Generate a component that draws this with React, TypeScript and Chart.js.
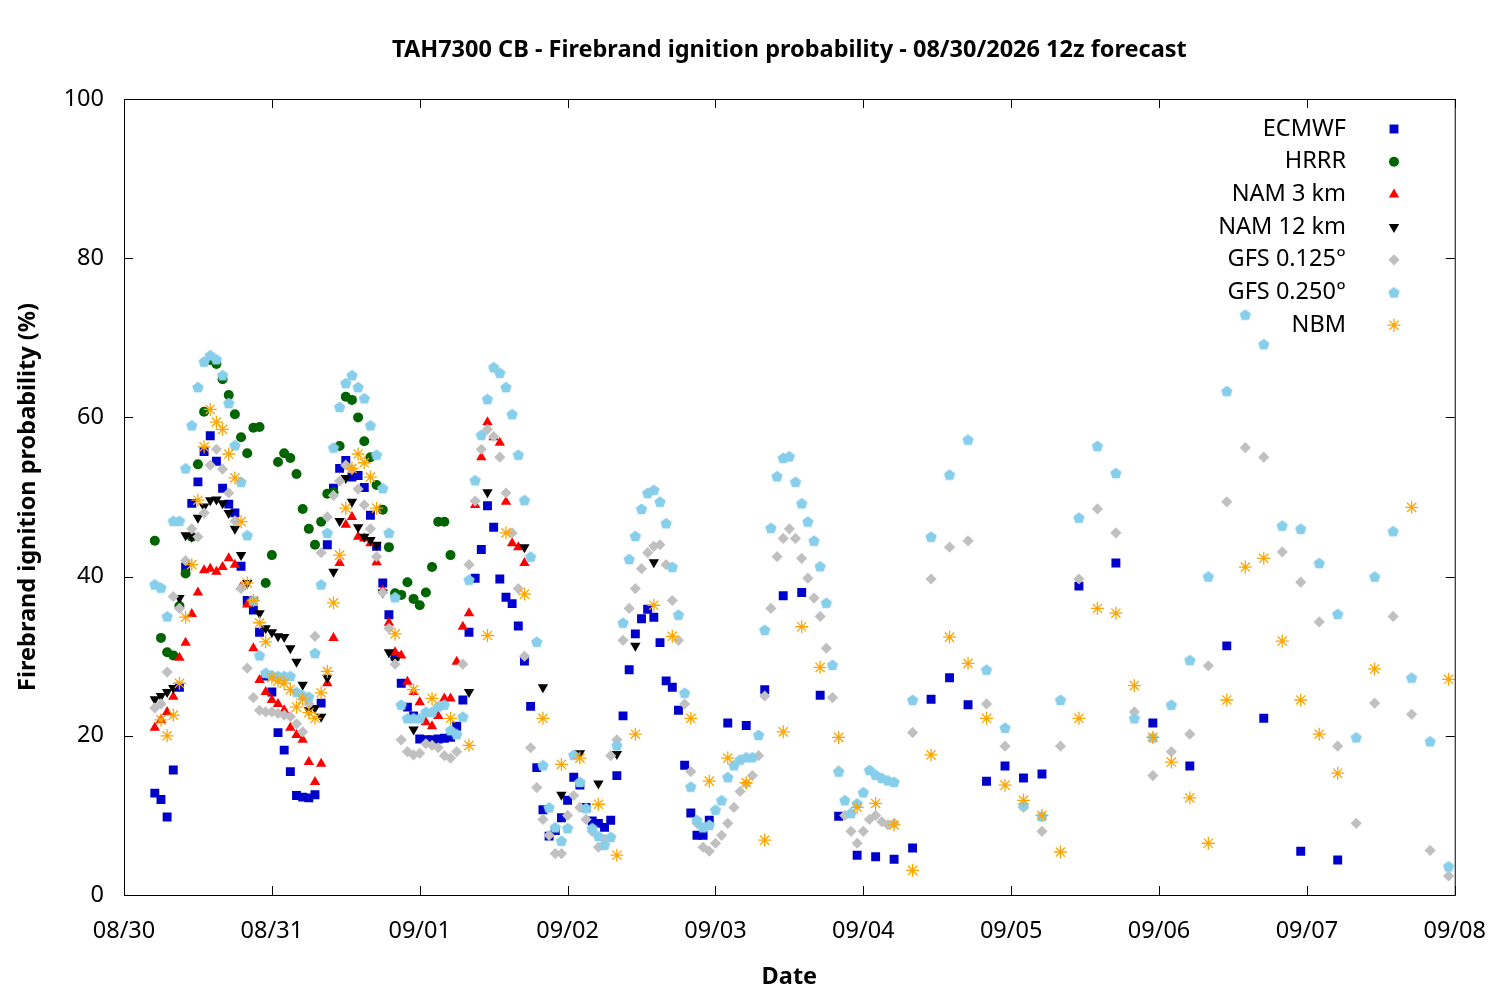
import React, { useEffect, useRef } from "react";
import { Chart, registerables } from "chart.js";
import { drawPoint } from "chart.js/helpers";

Chart.register(...registerables);

// hours since 08/30 00z
const DATE_LABELS = ["08/30", "08/31", "09/01", "09/02", "09/03", "09/04", "09/05", "09/06", "09/07", "09/08"];
const Y_TICKS = [0, 20, 40, 60, 80, 100];

const ecmwfHourly = [12.8,12,9.8,15.7,26.1,41.2,49.2,51.9,55.7,57.7,54.5,51.1,49.1,48,41.3,37,35.8,33,27.5,25.5,20.4,18.2,15.5,12.5,12.3,12.2,12.6,24.1,44,51.1,53.6,54.6,52.5,52.7,51.2,47.7,43.8,39.2,35.2,30,26.6,23.6,22.5,19.6,19.5,19.5,19.6,19.7,19.8,21.2,24.5,33,39.8,43.4,48.9,46.2,39.7,37.4,36.6,33.8,29.4,23.7,16,10.7,7.4,8.1,9.7,11.9,14.8,13.8,11,9.3,9,8.5,9.4,15,22.5,28.3,32.8,34.7,35.9,34.9,31.7,26.9,26.1,23.2,16.3,10.3,7.5,7.5,9.4];
const ecmwf3h = [21.6,21.3,25.8,37.6,38,25.1,9.9,5,4.8,4.5,5.9,24.6,27.3,23.9,14.3,16.2,14.7,15.2,null,38.8,null,41.7,null,21.6,null,16.2,null,31.3,null,22.2,null,5.5,null,4.4];

const hrrrHourly = [44.5,32.3,30.5,30.1,36.3,40.4,45,54.1,60.7,67.2,66.7,64.8,62.8,60.4,57.5,55.5,58.7,58.8,39.2,42.7,54.4,55.5,54.9,52.9,48.5,46,44,46.9,50.4,50.6,56.4,62.6,62.2,60,57,55,51.5,48.4,43.7,37.9,37.7,39.3,37.2,36.4,38,41.2,46.9,46.9,42.7];

const nam3Hourly = [21,22,23,24.9,29.8,31.7,35.3,38,40.8,41,40.6,41.2,42.3,41.5,38.7,36.5,31,27,25.5,24.5,24,23.2,21,20.1,19.5,16.7,14.2,16.5,26.6,32.3,41.7,46.5,47.5,45,44.8,44.2,41.8,38.3,34.2,30.5,30.1,26.8,25.5,24.2,21.7,21.2,22.5,24.7,24.7,29.3,33.7,35.4,49,55,59.4,57.5,56.8,49.4,44.2,43.7,41.7];

const nam12Hourly = [24.6,25,25.5,26,37.3,45.2,45,47.4,48.8,49.6,49.7,49.2,48,46,42.7,39.2,37,35.4,33.5,33,32.5,32.4,31,29.3,26.4,23.2,23.5,22.4,27.3,40.6,47,52.4,49.4,46.2,45,44.6,44,38,30.5,29.5];
const nam123h = [20.8,null,null,25.5,50.6,null,43.7,26.1,12.6,17.8,14,17.7,31.3,41.8];

const gfs125Hourly = [23.5,24,28,37.5,36,42,46,45,48,54,56,53.5,50.5,47,38.5,28.5,24.8,23.2,23,23,22.8,22.6,22.4,21.5,20.5,24,32.5,43,47.5,50.2,52,54,53.5,51,49,46,42.5,38,33.5,29,19.5,18,17.6,17.8,19,18.8,18.5,17.5,17.2,18,29,41.5,49.5,56,58.5,57.6,55,50.5,45.5,38.5,30,18.5,13.5,9.5,7.5,5.2,5.2,10,12.5,11,9.5,8,6,7,17.5,19.5,32,36,38.5,41,43,43.8,44,41.5,37,32,24,15.5,9,6,5.5,6.5,7.5,9,11,13,14,15,17.5,25,36,42.5,44.8,46,44.8,42.3,39.8,37.3,35,31,24.8,15.6,10,8,6.5,8,9.5,10,9.2,8.8,9];
const gfs1253h = [20.4,39.7,43.7,44.5,24,18.7,11,8,18.7,39.7,48.5,45.5,23,15,18,20.2,28.8,49.4,56.2,55,43.1,39.3,34.3,18.7,9,24.1,35,22.7,5.6,2.4];

const gfs250Hourly = [39,38.6,35,47,47,53.6,59,63.8,67,67.8,67.3,65.3,61.8,56.5,51.9,45.2,37,30.1,27.9,27.6,27.5,27.5,27.5,25.5,25.1,24.9,30.4,39,45.5,56.2,61.3,64.3,65.3,63.8,62.4,59,55.3,51.1,45.5,37.4,23.9,22.2,22.2,22.2,23,23,23.7,23.9,20.7,20.2,22.4,39.6,52.1,57.8,62.3,66.3,65.6,63.8,60.4,55.3,49.6,42.5,31.8,16.3,11,8.5,6.8,8.4,17.6,14.2,10.9,8.4,7.4,6.3,7.3,18.8,34.2,42.2,45.1,48.5,50.5,50.9,49.4,46.7,41.2,35.2,25.4,13.6,9.4,8.5,8.8,10.7,11.9,14.8,16.3,17,17.3,17.3,20.1,33.3,46.1,52.6,54.9,55.1,51.9,49.2,46.9,44.5,41.3,36.7,28.9,15.5,11.9,10.3,11.5,12.9,15.7,15.1,14.7,14.4,14.2];
const gfs2503h = [24.5,45,52.8,57.2,28.3,21,11.3,9.9,24.5,47.4,56.4,53,22.2,19.8,23.9,29.5,40,63.3,72.9,69.2,46.4,46,41.7,35.3,19.8,40,45.7,27.3,19.3,3.6];

const nbmHourly = [22,20,22.6,26.6,34.9,41.5,49.6,56.3,61,59.4,58.5,55.4,52.4,46.9,39.2,37,34.2,31.8,27.3,26.9,26.6,25.8,23.6,24.6,22.9,22.2,25.4,28.1,36.7,42.7,48.6,53.6,55.4,54.3,52.5,48.6];
const nbm3h = [32.8,25.8,24.7,22.2,18.8,32.6,45.5,37.8,22.2,16.4,17.2,11.4,5,20.2,36.4,32.5,22.2,14.3,17.2,14.1,6.9,20.5,33.7,28.6,19.8,11,11.5,8.8,3.1,17.6,32.4,29.1,22.2,13.8,11.9,10,5.4,22.2,36,35.4,26.3,19.8,16.7,12.2,6.5,24.5,41.2,42.3,31.9,24.5,20.2,15.3,null,28.4,null,48.7,null,27.1];

function seg(start: number, step: number, vals: (number | null)[]) {
  const out: { x: number; y: number }[] = [];
  vals.forEach((v, i) => { if (v !== null) out.push({ x: start + i * step, y: v }); });
  return out;
}

function pentagon(color: string, r: number) {
  const c = document.createElement("canvas");
  const s = Math.ceil(r * 2 + 2);
  c.width = s; c.height = s;
  const ctx = c.getContext("2d")!;
  ctx.fillStyle = color;
  ctx.beginPath();
  for (let i = 0; i < 5; i++) {
    const a = -Math.PI / 2 + (i * 2 * Math.PI) / 5;
    const px = s / 2 + r * Math.cos(a), py = s / 2 + r * Math.sin(a) + 0.5;
    if (i === 0) ctx.moveTo(px, py); else ctx.lineTo(px, py);
  }
  ctx.closePath(); ctx.fill();
  return c;
}

const FONT = "'Noto Sans', 'DejaVu Sans', sans-serif";

export default function App() {
  const ref = useRef<HTMLCanvasElement>(null);
  useEffect(() => {
    const pent = pentagon("#87ceeb", 6);
    const mk = (label: string, data: any[], color: string, style: any, radius: number, extra: any = {}) => ({
      label, data, backgroundColor: color, borderColor: color, pointStyle: style, pointRadius: radius,
      pointBorderWidth: style === "star" ? 1.3 : 0, showLine: false, ...extra,
    });
    const datasets: any[] = [
      mk("ECMWF", [...seg(5, 1, ecmwfHourly), ...seg(98, 3, ecmwf3h)], "#0000cc", "rect", 6.3, { order: 7 }),
      mk("HRRR", seg(5, 1, hrrrHourly), "#006400", "circle", 5, { order: 6 }),
      mk("NAM 3 km", seg(5, 1, nam3Hourly), "#ff0000", "triangle", 6, { order: 5 }),
      mk("NAM 12 km", [...seg(5, 1, nam12Hourly), ...seg(47, 3, nam123h)], "#000000", "triangle", 6, { order: 4, pointRotation: 180 }),
      mk("GFS 0.125°", [...seg(5, 1, gfs125Hourly), ...seg(128, 3, gfs1253h)], "#c0c0c0", "rectRot", 5.6, { order: 3 }),
      mk("GFS 0.250°", [...seg(5, 1, gfs250Hourly), ...seg(128, 3, gfs2503h)], "#87ceeb", pent, 6, { order: 2 }),
      mk("NBM", [...seg(6, 1, nbmHourly), ...seg(44, 3, nbm3h)], "#ffa500", "star", 6.5, { order: 1 }),
    ];
    const deco = {
      id: "deco",
      afterDraw(chart: any) {
        const { ctx, chartArea: a, scales } = chart;
        ctx.save();
        ctx.strokeStyle = "#000"; ctx.lineWidth = 1;
        ctx.strokeRect(a.left + 0.5, a.top + 0.5, a.right - a.left, a.bottom - a.top);
        ctx.beginPath();
        for (let i = 0; i < DATE_LABELS.length; i++) {
          const x = Math.round(scales.x.getPixelForValue(i * 24)) + 0.5;
          ctx.moveTo(x, a.bottom); ctx.lineTo(x, a.bottom - 9);
          ctx.moveTo(x, a.top); ctx.lineTo(x, a.top + 9);
        }
        for (const v of Y_TICKS) {
          const y = Math.round(scales.y.getPixelForValue(v)) + 0.5;
          ctx.moveTo(a.left, y); ctx.lineTo(a.left + 9, y);
          ctx.moveTo(a.right, y); ctx.lineTo(a.right - 9, y);
        }
        ctx.stroke();
        ctx.fillStyle = "#000";
        ctx.textAlign = "center"; ctx.textBaseline = "middle";
        ctx.font = `bold 23.5px ${FONT}`;
        ctx.fillText("TAH7300 CB - Firebrand ignition probability - 08/30/2026 12z forecast", (a.left + a.right) / 2, 50);
        ctx.fillText("Date", (a.left + a.right) / 2, 977);
        ctx.save();
        ctx.translate(28, (a.top + a.bottom) / 2); ctx.rotate(-Math.PI / 2);
        ctx.fillText("Firebrand ignition probability (%)", 0, 0);
        ctx.restore();
        ctx.font = `23.5px ${FONT}`;
        ctx.textAlign = "right";
        datasets.forEach((d, i) => {
          const y = 129 + i * 32.7;
          ctx.fillStyle = "#000";
          ctx.fillText(d.label, 1346, y);
          ctx.fillStyle = d.backgroundColor; ctx.strokeStyle = d.borderColor;
          ctx.lineWidth = d.pointBorderWidth || 1;
          drawPoint(ctx, { pointStyle: d.pointStyle, radius: d.pointRadius, rotation: d.pointRotation || 0, borderWidth: d.pointBorderWidth }, 1394, y);
        });
        ctx.restore();
      },
    };
    const chart = new Chart(ref.current!, {
      type: "scatter",
      data: { datasets },
      options: {
        animation: false, responsive: false, devicePixelRatio: 1,
        layout: { padding: { top: 99, right: 43, left: 0, bottom: 0 } },
        plugins: { legend: { display: false }, tooltip: { enabled: false }, title: { display: false } },
        scales: {
          x: {
            type: "linear", min: 0, max: 216,
            grid: { display: false }, border: { display: false },
            afterFit: (s: any) => { s.height = 105; },
            ticks: { stepSize: 24, padding: 14, color: "#000", font: { size: 23.5, family: FONT }, maxRotation: 0,
              callback: (v: any) => DATE_LABELS[Math.round(Number(v) / 24)] ?? "" },
          },
          y: {
            min: 0, max: 100,
            grid: { display: false }, border: { display: false },
            afterFit: (s: any) => { s.width = 124; },
            ticks: { stepSize: 20, padding: 12, color: "#000", font: { size: 23.5, family: FONT } },
          },
        },
      },
      plugins: [deco],
    });
    return () => chart.destroy();
  }, []);
  return (
    <div style={{ position: "absolute", left: 0, top: 0, width: 1500, height: 1000, background: "#fff" }}>
      <canvas ref={ref} width={1500} height={1000} />
    </div>
  );
}
